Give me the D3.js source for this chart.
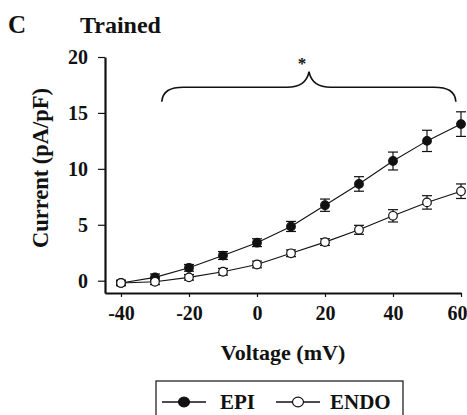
<!DOCTYPE html>
<html>
<head>
<meta charset="utf-8">
<script src="https://cdn.jsdelivr.net/npm/d3@7"></script>
<style>
  html, body { margin: 0; padding: 0; background: #fff; }
  svg { display: block; }
  text { font-family: "Liberation Serif", "Times New Roman", serif; font-weight: bold; fill: #111; }
</style>
</head>
<body>
<svg id="chart" width="467" height="415"></svg>
<script>
// Test potentials (mV)
const voltages = [-40, -30, -20, -10, 0, 10, 20, 30, 40, 50, 60];
// Mean current density (pA/pF) and SEM per group
const epiMean  = [-0.2, 0.3, 1.15, 2.25, 3.4, 4.85, 6.75, 8.65, 10.7, 12.5, 14.0];
const epiSem   = [0.25, 0.3, 0.3, 0.35, 0.35, 0.45, 0.55, 0.65, 0.8, 0.95, 1.1];
const endoMean = [-0.2, -0.1, 0.3, 0.8, 1.45, 2.45, 3.45, 4.55, 5.8, 7.0, 8.0];
const endoSem  = [0.2, 0.25, 0.25, 0.3, 0.3, 0.3, 0.3, 0.4, 0.55, 0.6, 0.65];
const xTicks = [-40, -20, 0, 20, 40, 60];
const xTickLabels = ["-40", "-20", "0", "20", "40", "60"];
const yTicks = [0, 5, 10, 15, 20];
const yTickLabels = ["0", "5", "10", "15", "20"];
const seriesNames = ["EPI", "ENDO"];
// Significance bracket span (mV), its level (pA/pF) and marker
const bracketSpan = [-28, 58.5];
const bracketPeakX = 15.3;
const bracketLevels = { foot: 16.0, bar: 17.3, peak: 18.7 };
const bracketMark = "*";

const svg = d3.select("#chart");

const x = d3.scaleLinear().domain([-44.7, 60]).range([105, 461]);
const y = d3.scaleLinear().domain([-1.1, 20]).range([293, 57]);

// Panel letter and title
svg.append("text").attr("x", 8).attr("y", 33).attr("font-size", 25).text("C");
svg.append("text").attr("x", 80).attr("y", 33).attr("font-size", 24).text("Trained");

// Axes
const yAxis = svg.append("g").attr("transform", `translate(${x.range()[0]},0)`)
  .call(d3.axisLeft(y).tickValues(yTicks).tickFormat((d, i) => yTickLabels[i])
    .tickSize(7).tickPadding(10).tickSizeOuter(0));
const xAxis = svg.append("g").attr("transform", `translate(0,${y.range()[0]})`)
  .call(d3.axisBottom(x).tickValues(xTicks).tickFormat((d, i) => xTickLabels[i])
    .tickSize(4).tickPadding(9).tickSizeOuter(0));
[yAxis, xAxis].forEach(g => {
  g.select(".domain").attr("stroke", "#111").attr("stroke-width", 2.2);
  g.selectAll(".tick line").attr("stroke", "#111").attr("stroke-width", 1.2);
  g.selectAll(".tick text").attr("font-size", 20).attr("fill", "#111")
    .attr("font-family", "Liberation Serif, Times New Roman, serif").attr("font-weight", "bold");
});
xAxis.selectAll(".tick text").attr("dy", "0.71em");
// keep the last label inside the frame
xAxis.selectAll(".tick text").filter(d => d === xTicks[xTicks.length - 1])
  .attr("text-anchor", "end").attr("x", 6);

// Axis titles
svg.append("text").attr("x", 283).attr("y", 360).attr("text-anchor", "middle")
  .attr("font-size", 22).text("Voltage (mV)");
svg.append("text").attr("transform", "translate(48,168) rotate(-90)")
  .attr("text-anchor", "middle").attr("font-size", 22.5).text("Current (pA/pF)");

// Significance bracket
const bx0 = x(bracketSpan[0]), bx1 = x(bracketSpan[1]), px = x(bracketPeakX);
const yf = y(bracketLevels.foot), yb = y(bracketLevels.bar), yp = y(bracketLevels.peak);
const bracket = d3.path();
bracket.moveTo(bx0, yf);
bracket.bezierCurveTo(bx0 + 1, yb + 4, bx0 + 8, yb, bx0 + 22, yb);
bracket.lineTo(px - 22, yb);
bracket.bezierCurveTo(px - 9, yb, px - 2, yb - 5, px, yp);
bracket.bezierCurveTo(px + 2, yb - 5, px + 9, yb, px + 22, yb);
bracket.lineTo(bx1 - 22, yb);
bracket.bezierCurveTo(bx1 - 8, yb, bx1 - 1, yb + 4, bx1, yf);
svg.append("path").attr("d", bracket.toString()).attr("fill", "none")
  .attr("stroke", "#111").attr("stroke-width", 1.6);
svg.append("text").attr("x", px - 7).attr("y", yp - 3).attr("text-anchor", "middle")
  .attr("font-size", 17).attr("font-weight", "normal").text(bracketMark);

// Series
const series = [
  { name: seriesNames[0], mean: epiMean, sem: epiSem, fill: "#111" },
  { name: seriesNames[1], mean: endoMean, sem: endoSem, fill: "#fff" }
];
const line = d3.line().x(d => x(d.v)).y(d => y(d.m));

series.forEach(s => {
  const pts = voltages.map((v, i) => ({ v, m: s.mean[i], e: s.sem[i] }));
  const g = svg.append("g");
  g.append("path").datum(pts).attr("d", line).attr("fill", "none")
    .attr("stroke", "#111").attr("stroke-width", 1.1);
  const eb = g.selectAll(".eb").data(pts).join("g");
  eb.append("line").attr("x1", d => x(d.v)).attr("x2", d => x(d.v))
    .attr("y1", d => y(d.m - d.e)).attr("y2", d => y(d.m + d.e))
    .attr("stroke", "#111").attr("stroke-width", 1.2);
  [-1, 1].forEach(sgn => {
    eb.append("line").attr("x1", d => x(d.v) - 5).attr("x2", d => x(d.v) + 5)
      .attr("y1", d => y(d.m + sgn * d.e)).attr("y2", d => y(d.m + sgn * d.e))
      .attr("stroke", "#111").attr("stroke-width", 1.2);
  });
  g.selectAll("circle").data(pts).join("circle")
    .attr("cx", d => x(d.v)).attr("cy", d => y(d.m)).attr("r", 4.3)
    .attr("fill", s.fill).attr("stroke", "#111").attr("stroke-width", 1.2);
});

// Legend
const lg = svg.append("g");
lg.append("rect").attr("x", 156).attr("y", 381).attr("width", 247).attr("height", 45)
  .attr("fill", "none").attr("stroke", "#111").attr("stroke-width", 1.2);
const legendItems = [
  { name: series[0].name, fill: series[0].fill, lx: 162, tx: 220 },
  { name: series[1].name, fill: series[1].fill, lx: 276, tx: 330 }
];
legendItems.forEach(it => {
  const ly = 402;
  lg.append("line").attr("x1", it.lx).attr("x2", it.lx + 44).attr("y1", ly).attr("y2", ly)
    .attr("stroke", "#111").attr("stroke-width", 1.6);
  lg.append("ellipse").attr("cx", it.lx + 22).attr("cy", ly).attr("rx", 5.5).attr("ry", 4.8)
    .attr("fill", it.fill).attr("stroke", "#111").attr("stroke-width", 1.2);
  lg.append("text").attr("x", it.tx).attr("y", ly).attr("dy", "0.35em")
    .attr("font-size", 21).text(it.name);
});
</script>
</body>
</html>
